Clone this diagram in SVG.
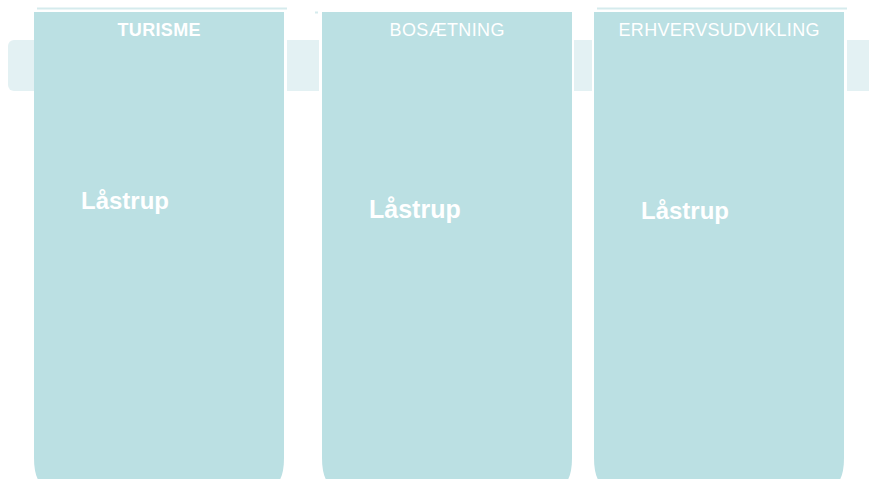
<svg xmlns="http://www.w3.org/2000/svg" width="869" height="479" viewBox="0 0 869 479">
<style>
.col{fill:#bbe0e3}
.tab{fill:#e3f1f3}
.topline{stroke:#d5ebed;stroke-width:2}
.hdr{font-family:"Liberation Sans",Arial,sans-serif;fill:#ffffff;text-anchor:middle;font-size:18px}
.name{font-family:"Liberation Sans",Arial,sans-serif;fill:#ffffff;font-weight:bold}
</style>
<rect width="869" height="479" fill="#ffffff"/>
<g id="tabs">
<rect class="tab" x="8" y="40" width="40" height="51" rx="6"/>
<rect class="tab" x="287" y="40" width="32" height="51"/>
<rect class="tab" x="574" y="40" width="18" height="51"/>
<rect class="tab" x="847" y="40" width="30" height="51"/>
</g>
<g id="turisme">
<line class="topline" x1="37" y1="8.5" x2="287" y2="8.5"/>
<path class="col" d="M34 12 H284 V458 Q284 488 266 488 H52 Q34 488 34 458 Z"/>
<text class="hdr" x="159" y="36" font-weight="bold" font-size="17" textLength="83">TURISME</text>
<text class="name" x="81" y="209" font-size="24">Låstrup</text>
</g>
<g id="bosaetning">
<line class="topline" x1="315" y1="12.5" x2="318" y2="12.5"/>
<path class="col" d="M322 12 H572 V458 Q572 488 554 488 H340 Q322 488 322 458 Z"/>
<text class="hdr" x="447" y="36" textLength="115">BOSÆTNING</text>
<text class="name" x="369" y="218" font-size="25">Låstrup</text>
</g>
<g id="erhvervsudvikling">
<line class="topline" x1="597" y1="8.5" x2="847" y2="8.5"/>
<path class="col" d="M594 12 H844 V458 Q844 488 826 488 H612 Q594 488 594 458 Z"/>
<text class="hdr" x="719" y="36" textLength="201">ERHVERVSUDVIKLING</text>
<text class="name" x="641" y="219" font-size="24">Låstrup</text>
</g>
<g id="connectors"/>
</svg>
